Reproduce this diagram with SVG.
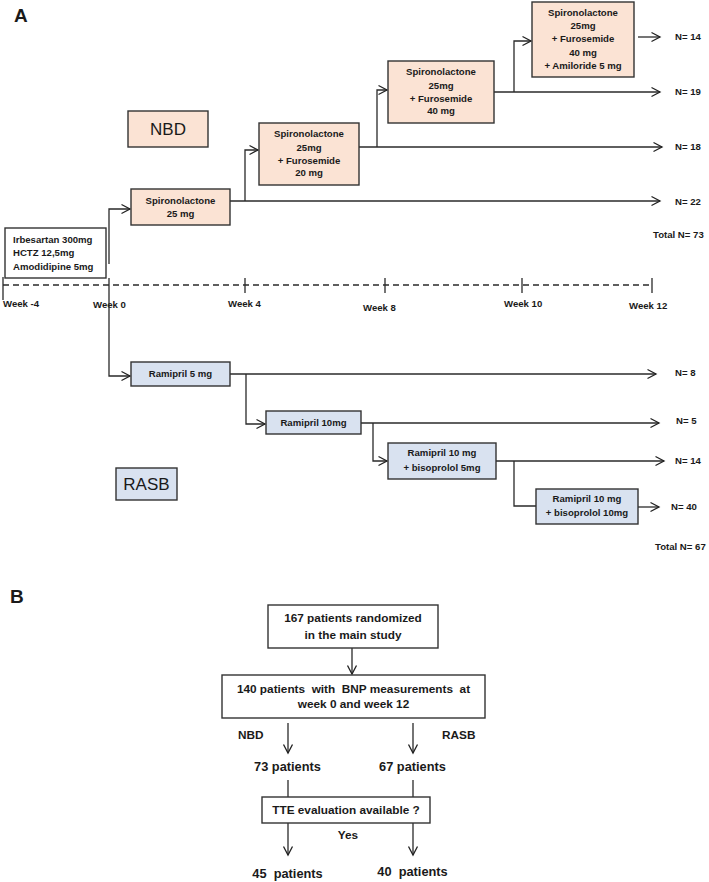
<svg xmlns="http://www.w3.org/2000/svg" width="709" height="882" viewBox="0 0 709 882">
<defs>
<marker id="arr" markerUnits="userSpaceOnUse" markerWidth="12" markerHeight="12" refX="10" refY="6" orient="auto">
<path d="M1.5,1.5 L10,6 L1.5,10.5" fill="none" stroke="#222" stroke-width="1.3"/>
</marker>
<style>
.bx{stroke:#333;stroke-width:1.4}
.nbd{fill:#FBE3D4}
.ras{fill:#D9E2F0}
.wh{fill:#fff}
.ln{fill:none;stroke:#2a2a2a;stroke-width:1.3}
.t{font-family:"Liberation Sans",Arial,sans-serif;font-weight:bold;font-size:9.6px;fill:#1a1a1a}
.c{text-anchor:middle}
.big{font-family:"Liberation Sans",Arial,sans-serif;font-size:17px;fill:#1a1a1a}
.lab{font-family:"Liberation Sans",Arial,sans-serif;font-weight:bold;font-size:19px;fill:#1a1a1a}
.bt{font-family:"Liberation Sans",Arial,sans-serif;font-weight:bold;font-size:11.8px;fill:#1a1a1a}
.bp{font-family:"Liberation Sans",Arial,sans-serif;font-weight:bold;font-size:12.8px;fill:#1a1a1a}
</style>
</defs>
<rect width="709" height="882" fill="#fff"/>

<text class="lab" x="14" y="22">A</text>
<text class="lab" x="10" y="603">B</text>

<!-- timeline -->
<g id="timeline">
<line x1="3" y1="285" x2="652" y2="285" stroke="#2a2a2a" stroke-width="1.3" stroke-dasharray="6,4"/>
<line x1="3" y1="277" x2="3" y2="300" class="ln"/>
<line x1="109" y1="278" x2="109" y2="293" class="ln"/>
<line x1="245" y1="278" x2="245" y2="293" class="ln"/>
<line x1="385" y1="278" x2="385" y2="293" class="ln"/>
<line x1="522" y1="278" x2="522" y2="293" class="ln"/>
<line x1="652" y1="278" x2="652" y2="293" class="ln"/>
<text class="t" x="3" y="307">Week -4</text>
<text class="t" x="93" y="308">Week 0</text>
<text class="t" x="228" y="307">Week 4</text>
<text class="t" x="363" y="311">Week 8</text>
<text class="t" x="504" y="307">Week 10</text>
<text class="t" x="629" y="309">Week 12</text>
</g>

<!-- connectors -->
<g id="connectors">
<path class="ln" d="M109,264 V209 H130" marker-end="url(#arr)"/>
<path class="ln" d="M230,201 H660" marker-end="url(#arr)"/>
<path class="ln" d="M245,201 V150 H258" marker-end="url(#arr)"/>
<path class="ln" d="M359,147 H662" marker-end="url(#arr)"/>
<path class="ln" d="M377,147 V90 H387" marker-end="url(#arr)"/>
<path class="ln" d="M494,92 H660" marker-end="url(#arr)"/>
<path class="ln" d="M514,92 V41 H531" marker-end="url(#arr)"/>
<path class="ln" d="M638,37 H660" marker-end="url(#arr)"/>

<path class="ln" d="M109,293 V376 H130" marker-end="url(#arr)"/>
<path class="ln" d="M230,374 H656" marker-end="url(#arr)"/>
<path class="ln" d="M246,374 V424 H265" marker-end="url(#arr)"/>
<path class="ln" d="M361,423 H659" marker-end="url(#arr)"/>
<path class="ln" d="M373,423 V461 H387" marker-end="url(#arr)"/>
<path class="ln" d="M496,461 H664" marker-end="url(#arr)"/>
<path class="ln" d="M514,461 V506 H536"/>
<path class="ln" d="M638,507 H659" marker-end="url(#arr)"/>

<path class="ln" d="M352,648 V674" marker-end="url(#arr)"/>
<path class="ln" d="M288,723 V753" marker-end="url(#arr)"/>
<path class="ln" d="M413,723 V753" marker-end="url(#arr)"/>
<path class="ln" d="M288,780 V797"/>
<path class="ln" d="M413,780 V797"/>
<path class="ln" d="M288,823 V855" marker-end="url(#arr)"/>
<path class="ln" d="M413,823 V855" marker-end="url(#arr)"/>
</g>

<!-- NBD nodes -->
<g id="baseline-therapy">
<rect class="bx wh" x="5" y="228" width="101" height="50"/>
<text class="t" x="13" y="243">Irbesartan 300mg</text>
<text class="t" x="13" y="256">HCTZ 12,5mg</text>
<text class="t" x="13" y="270">Amodidipine 5mg</text>
</g>
<g id="nbd-label">
<rect class="bx nbd" x="128" y="111" width="80" height="36"/>
<text class="big c" x="168" y="135">NBD</text>
</g>
<g id="nbd1">
<rect class="bx nbd" x="131" y="189" width="99" height="36"/>
<text class="t c" x="180.5" y="204">Spironolactone</text>
<text class="t c" x="180.5" y="217">25 mg</text>
</g>
<g id="nbd2">
<rect class="bx nbd" x="259" y="123" width="100" height="62"/>
<text class="t c" x="309" y="137">Spironolactone</text>
<text class="t c" x="309" y="151">25mg</text>
<text class="t c" x="309" y="164">+ Furosemide</text>
<text class="t c" x="309" y="176">20 mg</text>
</g>
<g id="nbd3">
<rect class="bx nbd" x="388" y="61" width="106" height="62"/>
<text class="t c" x="441" y="75">Spironolactone</text>
<text class="t c" x="441" y="89">25mg</text>
<text class="t c" x="441" y="102">+ Furosemide</text>
<text class="t c" x="441" y="114">40 mg</text>
</g>
<g id="nbd4">
<rect class="bx nbd" x="532" y="2" width="102" height="75"/>
<text class="t c" x="583" y="16">Spironolactone</text>
<text class="t c" x="583" y="29">25mg</text>
<text class="t c" x="583" y="42">+ Furosemide</text>
<text class="t c" x="583" y="56">40 mg</text>
<text class="t c" x="583" y="69">+ Amiloride 5 mg</text>
</g>
<g id="nbd-counts">
<text class="t" x="675" y="40">N= 14</text>
<text class="t" x="675" y="95">N= 19</text>
<text class="t" x="675" y="150">N= 18</text>
<text class="t" x="675" y="205">N= 22</text>
<text class="t" x="653" y="238">Total N= 73</text>
</g>

<!-- RASB nodes -->
<g id="rasb-label">
<rect class="bx ras" x="116" y="468" width="61" height="32"/>
<text class="big c" x="146.5" y="490">RASB</text>
</g>
<g id="rasb1">
<rect class="bx ras" x="131" y="362" width="99" height="24"/>
<text class="t c" x="180.5" y="377">Ramipril 5 mg</text>
</g>
<g id="rasb2">
<rect class="bx ras" x="266" y="411" width="95" height="23"/>
<text class="t c" x="313.5" y="426">Ramipril 10mg</text>
</g>
<g id="rasb3">
<rect class="bx ras" x="388" y="443" width="108" height="36"/>
<text class="t c" x="442" y="456">Ramipril 10 mg</text>
<text class="t c" x="442" y="471">+ bisoprolol 5mg</text>
</g>
<g id="rasb4">
<rect class="bx ras" x="536" y="489" width="102" height="35"/>
<text class="t c" x="587" y="502">Ramipril 10 mg</text>
<text class="t c" x="587" y="516">+ bisoprolol 10mg</text>
</g>
<g id="rasb-counts">
<text class="t" x="675" y="376">N= 8</text>
<text class="t" x="676" y="424">N= 5</text>
<text class="t" x="675" y="464">N= 14</text>
<text class="t" x="671" y="510">N= 40</text>
<text class="t" x="655" y="550">Total N= 67</text>
</g>

<!-- Part B -->
<g id="randomized">
<rect class="bx wh" x="268" y="605" width="170" height="43"/>
<text class="bt c" x="353" y="622">167 patients randomized</text>
<text class="bt c" x="353" y="639">in the main study</text>
</g>
<g id="bnp">
<rect class="bx wh" x="222" y="675" width="263" height="43"/>
<text class="bt c" x="353.5" y="693" xml:space="preserve">140 patients  with  BNP measurements  at</text>
<text class="bt c" x="353.5" y="708">week 0 and week 12</text>
</g>
<g id="group-labels">
<text class="bt" x="238" y="739">NBD</text>
<text class="bt" x="442" y="739">RASB</text>
</g>
<g id="n73"><text class="bp c" x="287.5" y="771">73 patients</text></g>
<g id="n67"><text class="bp c" x="412.5" y="771">67 patients</text></g>
<g id="tte">
<rect class="bx wh" x="262" y="797" width="168" height="26"/>
<text class="bt c" x="346" y="814">TTE evaluation available ?</text>
<text class="bt c" x="348" y="839">Yes</text>
</g>
<g id="n45"><text class="bp c" x="287.5" y="878" xml:space="preserve">45  patients</text></g>
<g id="n40"><text class="bp c" x="412.5" y="876" xml:space="preserve">40  patients</text></g>
</svg>
